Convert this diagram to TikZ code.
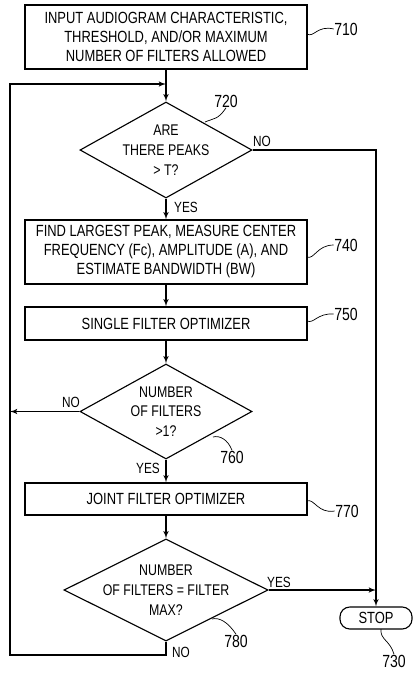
\documentclass[tikz,border=0pt]{standalone}
\usepackage{fontspec}
\setmainfont{Liberation Sans}[FakeStretch=0.8]
\usepackage{tikz}
\usetikzlibrary{shapes.geometric, arrows, positioning, calc}

\begin{document}
\begin{tikzpicture}[x=0.025cm, y=-0.025cm, >=latex', line width=0.8pt]
        \tikzstyle{blk} = [rectangle, minimum width=7.05cm, text centered, align=center, draw=black, font=\fontsize{11.5}{13.5}\selectfont]
        \tikzstyle{dia} = [diamond, inner sep=0pt, draw=black]
        \tikzstyle{dtxt} = [align=center, inner sep=0pt, font=\fontsize{11}{14}\selectfont]
        \tikzstyle{num} = [font=\fontsize{12.5}{14}\selectfont, inner sep=0pt]
        \tikzstyle{yn} = [font=\fontsize{10.5}{12}\selectfont, inner sep=0pt]
        \tikzstyle{ldr} = [line width=0.5pt]

        \useasboundingbox (0,0) rectangle (415,673);

        % Blocks and decisions
        \node (b710) [blk, minimum height=1.6cm] at (166,37) {INPUT AUDIOGRAM CHARACTERISTIC,\\THRESHOLD, AND/OR MAXIMUM\\NUMBER OF FILTERS ALLOWED};
        \node (d720) [dia, minimum width=4.3cm, minimum height=2.4cm] at (166,150) {};
        \node (t720) [dtxt] at (d720) {ARE\\THERE PEAKS\\> T?};
        \node (b740) [blk, minimum height=1.6cm] at (166,252) {FIND LARGEST PEAK, MEASURE CENTER\\FREQUENCY (Fc), AMPLITUDE (A), AND\\ESTIMATE BANDWIDTH (BW)};
        \node (b750) [blk, minimum height=0.825cm] at (166,323.5) {SINGLE FILTER OPTIMIZER};
        \node (d760) [dia, minimum width=4.3cm, minimum height=2.375cm] at (166,411.5) {};
        \node (t760) [dtxt] at (d760) {NUMBER\\OF FILTERS\\>1?};
        \node (b770) [blk, minimum height=0.8cm] at (166,499) {JOINT FILTER OPTIMIZER};
        \node (d780) [dia, minimum width=5.1cm, minimum height=2.55cm] at (166,590) {};
        \node (t780) [dtxt] at (d780) {NUMBER\\OF FILTERS = FILTER\\MAX?};
        \node (s730) [rectangle, rounded corners=7pt, draw=black, minimum width=1.8cm, minimum height=0.55cm, font=\fontsize{11.5}{13.5}\selectfont] at (376,618) {STOP};

        % Loop corners
        \coordinate (lpbot) at (10,655);
        \coordinate (lptop) at (10,84);
        \coordinate (lpin) at (166,84);

        % Main flow
        \draw [->] (b710) -- (d720);
        \draw [->] (d720) -- (b740);
        \draw [->] (b740) -- (b750);
        \draw [->] (b750) -- (d760);
        \draw [->] (d760) -- (b770);
        \draw [->] (b770) -- (d780);
        \draw [->] (d720.east) -| (s730.north);
        \draw [->] (d780.east) -- (d780.east -| s730.north);
        \draw [->] (d760.west) -- (d760.west -| lptop);
        \draw [->] (d780.south) |- (lpbot) -- (lptop) -- (lpin);

        % Yes/No labels
        \node (n720) [yn] at (262,141) {NO};
        \node (y720) [yn] at (186,207) {YES};
        \node (n760) [yn] at (71,402) {NO};
        \node (y760) [yn] at (148,468) {YES};
        \node (y780) [yn] at (279,582) {YES};
        \node (n780) [yn] at (181,652) {NO};

        % Reference numerals
        \node (r710) [num] at (346,29) {710};
        \draw [ldr] (307,34) .. controls (314,38) and (317,25) .. (r710.west);
        \node (r720) [num] at (226,101) {720};
        \draw [ldr] (205,122) .. controls (214,118) and (218,120) .. (r720.south);
        \node (r740) [num] at (346,245) {740};
        \draw [ldr] (307,257) .. controls (314,260) and (317,245) .. (r740.west);
        \node (r750) [num] at (346,314) {750};
        \draw [ldr] (307,321) .. controls (314,324) and (317,313) .. (r750.west);
        \node (r760) [num] at (232,457) {760};
        \draw [ldr] (213,437) .. controls (220,435) and (228,440) .. (r760.north);
        \node (r770) [num] at (347,511) {770};
        \draw [ldr] (307,501) .. controls (314,498) and (318,514) .. (r770.west);
        \node (r780) [num] at (236,641) {780};
        \draw [ldr] (212,619) .. controls (219,617) and (228,622) .. (r780.north);
        \node (r730) [num] at (394,661) {730};
        \draw [ldr] (381,629) .. controls (380,640) and (390,640) .. (r730.north);
    \end{tikzpicture}
\end{document}
